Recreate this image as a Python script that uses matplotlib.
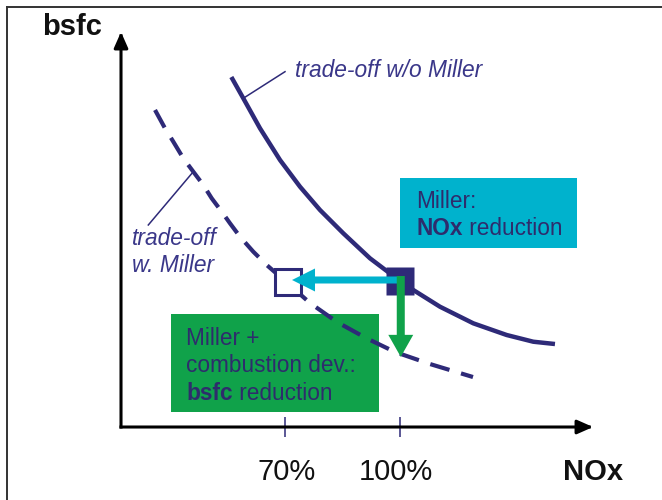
import matplotlib
matplotlib.use("Agg")
import matplotlib.pyplot as plt
from matplotlib.patches import Rectangle
from matplotlib.lines import Line2D

plt.rcParams['font.family'] = ['Liberation Sans', 'DejaVu Sans']

# trade-off curves (NOx in %, bsfc in arbitrary units)
nox_wo_miller = [56.0, 59.12, 63.48, 68.70, 73.91, 79.13, 85.21, 92.17, 100.0,
                 103.47, 110.43, 119.12, 127.83, 134.77, 140.43]
bsfc_wo_miller = [91.3, 85.75, 77.92, 69.65, 62.69, 56.61, 50.53, 44.01, 38.09,
                  35.74, 31.38, 27.05, 24.00, 22.25, 21.65]

nox_w_miller = [36.09, 38.70, 40.86, 43.47, 46.08, 48.69, 50.88, 53.49, 55.65,
                58.26, 61.73, 65.23, 70.8, 76.52, 83.57, 91.13, 98.70, 107.83, 119.04]
bsfc_w_miller = [82.70, 77.92, 74.43, 70.10, 66.60, 63.13, 59.66, 56.17, 53.14,
                 49.64, 45.73, 42.26, 37.4, 32.35, 27.39, 23.22, 19.57, 16.43, 13.04]

# operating points
base_point = (100.0, 38.0)     # w/o Miller, 100% NOx
miller_point = (70.8, 37.9)    # with Miller, 70% NOx
bsfc_improved = 18.3           # bsfc reached at 100% NOx with combustion dev.

nox_ticks = [70, 100]
nox_tick_labels = ['70%', '100%']

navy = '#2E2A78'
label_navy = '#3A3789'
box_text = '#2E2C6C'
cyan = '#00B2CD'
green = '#10A24A'

fig = plt.figure(figsize=(6.62, 5.0), dpi=100)
ax = fig.add_axes([0, 0, 1, 1])
ax.set_xlim(-4.348, 168.35)
ax.set_ylim(-19.04, 111.39)
ax.axis('off')

# frame lines of the slide crop
fig.add_artist(Line2D([7 / 662, 1], [1 - 6.5 / 500, 1 - 6.5 / 500], color='#333333', lw=1.4))
fig.add_artist(Line2D([7 / 662, 7 / 662], [0, 1 - 6.5 / 500], color='#333333', lw=1.4))

# axes with arrows
x0, y0 = 27.22, 0.0
aprops = dict(arrowstyle='-|>,head_length=0.95,head_width=0.42', color='black',
              lw=2.2, shrinkA=0, shrinkB=0, capstyle='projecting')
ax.annotate('', xy=(x0, 103.05), xytext=(x0, y0), arrowprops=aprops)
ax.annotate('', xy=(150.36, y0), xytext=(x0, y0), arrowprops=aprops)
ax.vlines(nox_ticks, -2.7, 2.7, color=navy, lw=1.1)
for xt, lab, xo in zip(nox_ticks, nox_tick_labels, [0.5, -1.0]):
    ax.text(xt + xo, -13.83, lab, ha='center', va='baseline', fontsize=21, color='#111111')
ax.text(150.36, -13.83, 'NOx', ha='center', va='baseline', fontsize=21,
        fontweight='bold', color='#111111')
ax.text(14.57, 102.3, 'bsfc', ha='center', va='baseline', fontsize=21,
        fontweight='bold', color='#111111')

# boxes
ax.add_patch(Rectangle((40.26, 3.91), 54.26, 25.57, facecolor=green, edgecolor='none', zorder=1))
ax.add_patch(Rectangle((100.0, 46.7), 46.2, 18.26, facecolor=cyan, edgecolor='none', zorder=1))

# curves
ax.plot(nox_wo_miller, bsfc_wo_miller, color=navy, lw=3.2, zorder=2,
        solid_capstyle='butt')
ax.plot(nox_w_miller, bsfc_w_miller, color=navy, lw=3.0, zorder=2,
        linestyle=(0, (4.8, 2.9)), dash_capstyle='butt')

# leader lines + labels
ax.plot([nox_wo_miller[1], 70.0], [bsfc_wo_miller[1], 92.69], color=navy, lw=1.1, zorder=2)
ax.plot([nox_w_miller[4], 34.34], [bsfc_w_miller[4], 52.7], color=navy, lw=1.1, zorder=2)
ax.text(72.6, 91.3, 'trade-off w/o Miller', fontsize=16.4, style='italic',
        color=label_navy, va='baseline')
ax.text(30.09, 47.5, 'trade-off', fontsize=16.4, style='italic',
        color=label_navy, va='baseline')
ax.text(30.09, 40.4, 'w. Miller', fontsize=16.4, style='italic',
        color=label_navy, va='baseline')

# operating points
ax.plot(*base_point, marker='s', ms=20.2, color=navy, mec='none', zorder=3)
ax.plot(*miller_point, marker='s', ms=19.4, mfc='white', mec=navy, mew=2.2, zorder=3)

# arrows
ax.arrow(99.6, 38.35, 71.83 - 99.6, 0, width=1.83, head_width=6.0, head_length=6.0,
         length_includes_head=True, color=cyan, ec='none', zorder=4)
ax.arrow(100.2, 39.39, 0, bsfc_improved - 39.39, width=2.09, head_width=6.5,
         head_length=5.74, length_includes_head=True, color=green, ec='none', zorder=5)


def two_part(x, y, bold, rest, size=16.3):
    t = ax.text(x, y, bold, fontsize=size, fontweight='bold', color=box_text,
                va='baseline', zorder=6)
    ax.annotate(rest, xy=(1, 0), xycoords=t, va='bottom', ha='left',
                fontsize=size, color=box_text, zorder=6)


# box texts
ax.text(104.2, 57.1, 'Miller:', fontsize=16.3, color=box_text, va='baseline', zorder=6)
two_part(104.2, 50.1, 'NOx', ' reduction')
ax.text(44.2, 21.4, 'Miller +', fontsize=16.3, color=box_text, va='baseline', zorder=6)
ax.text(44.2, 14.35, 'combustion dev.:', fontsize=16.3, color=box_text, va='baseline', zorder=6)
two_part(44.2, 7.04, 'bsfc', ' reduction')

fig.savefig('out.png', dpi=100)
